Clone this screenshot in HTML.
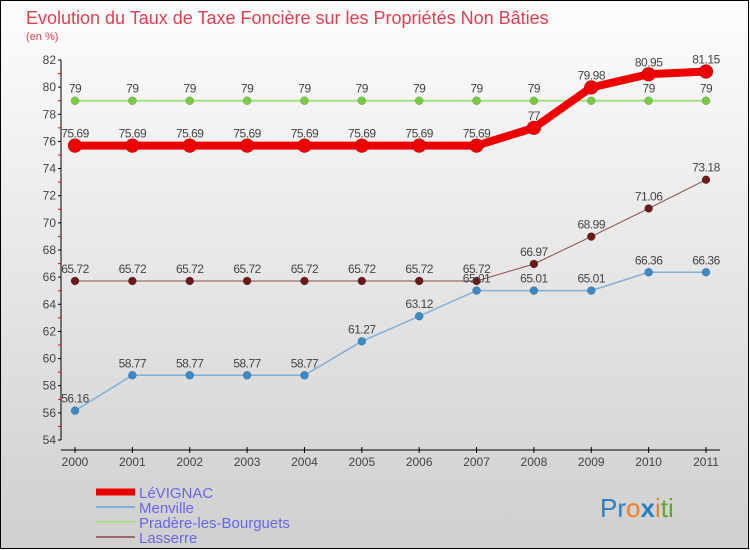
<!DOCTYPE html>
<html><head><meta charset="utf-8"><style>
body{margin:0}
svg{display:block;font-family:"Liberation Sans",sans-serif}
</style></head><body>
<svg id="c" width="750" height="550">
<defs><linearGradient id="bg" x1="0" y1="0" x2="0" y2="1"><stop offset="0" stop-color="#fdfdfd"/><stop offset="1" stop-color="#cfcfcf"/></linearGradient></defs>
<rect x="0.5" y="0.5" width="748" height="548" fill="url(#bg)" stroke="#000"/>
<text x="26" y="24" font-size="18" fill="#e0404f">Evolution du Taux de Taxe Foncière sur les Propriétés Non Bâties</text>
<text x="26" y="40" font-size="11" fill="#e0404f">(en %)</text>
<g id="g"></g>
<text x="600" y="517" font-size="26"><tspan fill="#2a7fc4">Pr</tspan><tspan fill="#f08020">o</tspan><tspan fill="#2a7fc4" font-weight="bold">x</tspan><tspan fill="#f08020">i</tspan><tspan fill="#5aaa30">ti</tspan></text>
</svg>
<script>
const years=[2000,2001,2002,2003,2004,2005,2006,2007,2008,2009,2010,2011];
const levignac=[75.69,75.69,75.69,75.69,75.69,75.69,75.69,75.69,77,79.98,80.95,81.15];
const menville=[56.16,58.77,58.77,58.77,58.77,61.27,63.12,65.01,65.01,65.01,66.36,66.36];
const pradere=[79,79,79,79,79,79,79,79,79,79,79,79];
const lasserre=[65.72,65.72,65.72,65.72,65.72,65.72,65.72,65.72,66.97,68.99,71.06,73.18];
const yTicks=[54,56,58,60,62,64,66,68,70,72,74,76,78,80,82];
const NS="http://www.w3.org/2000/svg";
const g=document.getElementById('g');
const X=i=>75+i*(706-75)/11;
const Y=v=>440-(v-54)*380/28;
function el(t,a,p){const e=document.createElementNS(NS,t);for(const k in a)e.setAttribute(k,a[k]);(p||g).appendChild(e);return e;}
function fmt(v){return String(v);}
let ax=el('line',{x1:61,y1:Y(82),x2:61,y2:Y(54),stroke:'#000'});


let xa=el('line',{x1:61,y1:450,x2:720,y2:450,stroke:'#000'});


yTicks.forEach(v=>{
 el('line',{x1:58,y1:Y(v),x2:61,y2:Y(v),stroke:'#000'});
 if(v<82) el('line',{x1:58,y1:Y(v+1),x2:61,y2:Y(v+1),stroke:'#e00'});
 const t=el('text',{x:56,y:Y(v)+4,'font-size':12,fill:'#444','text-anchor':'end'});
 t.textContent=v;
 
 
});
years.forEach((yr,i)=>{
 el('line',{x1:X(i),y1:447,x2:X(i),y2:453,stroke:'#000'});
 const t=el('text',{x:X(i),y:466,'font-size':12,fill:'#444','text-anchor':'middle'});
 t.textContent=yr;
 
 
});
function series(data,color,w,r,name,dot){
 const s=el('g',{});
 
 
 el('polyline',{points:data.map((v,i)=>X(i)+','+Y(v)).join(' '),fill:'none',stroke:color,'stroke-width':w},s);
 data.forEach((v,i)=>{
  const c=el('circle',{cx:X(i),cy:Y(v),r:r,fill:dot,stroke:'rgba(0,0,0,0.3)','stroke-width':0.5},s);
  
  
  const t=el('text',{x:X(i),y:Y(v)-8,'font-size':12,fill:'#444','text-anchor':'middle','letter-spacing':'-0.5'},s);
  t.textContent=fmt(v);
  
  
 });
}
series(pradere,'#a8dd88',2,4,'pradere','#77cc44');
series(lasserre,'#8a4a4a',1,4,'lasserre','#6b1a1a');
series(menville,'#80b0d8',1.5,4,'menville','#3a8ac8');
series(levignac,'#ee0000',8,7,'levignac','#ee0000');
const leg=[['LéVIGNAC','#ee0000',7],['Menville','#80b0d8',2],['Pradère-les-Bourguets','#a8dd88',2],['Lasserre','#9a6a6a',2]];
leg.forEach((l,i)=>{
 const y=492+i*15;
 const e=el('g',{});
 
 
 el('line',{x1:96,y1:y,x2:135,y2:y,stroke:l[1],'stroke-width':l[2]},e);
 const t=el('text',{x:139,y:y+6,'font-size':15,fill:'#6666ee'},e);
 t.textContent=l[0];
});
</script>
</body></html>
